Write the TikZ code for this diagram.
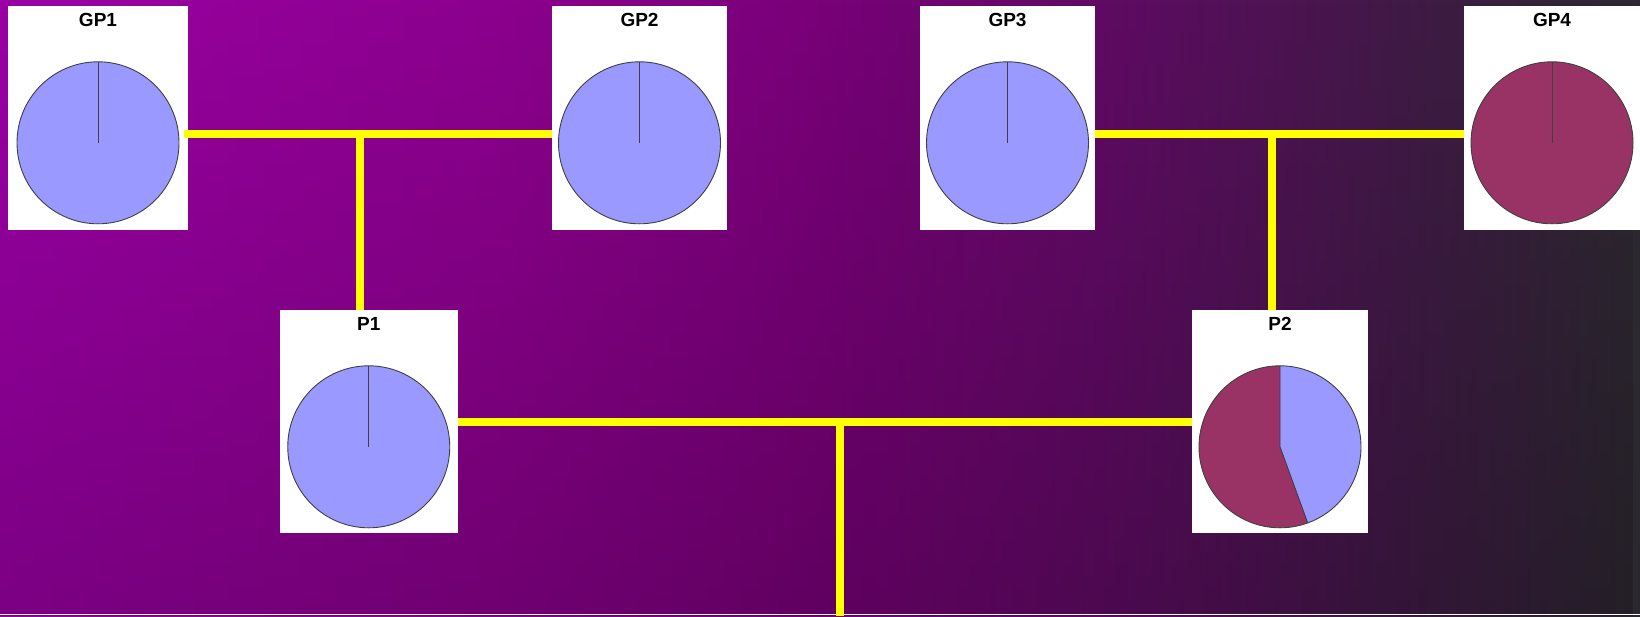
\documentclass[tikz,border=0pt]{standalone}
\usepackage{fontspec}
\setmainfont{Liberation Sans}
\usetikzlibrary{fadings}
\definecolor{pieblue}{HTML}{9999FF}
\definecolor{piered}{HTML}{993366}
\definecolor{linkyellow}{HTML}{FFFF00}
\definecolor{bgA}{HTML}{9A00A4}
\definecolor{bgB}{HTML}{8C008E}
\definecolor{bgC}{HTML}{7A007A}
\definecolor{bgD}{HTML}{600A64}
\definecolor{bgE}{HTML}{401A46}
\definecolor{bgF}{HTML}{2C2830}
\pgfdeclarehorizontalshading{bgshade}{100bp}{color(0bp)=(bgA); color(25bp)=(bgA); color(40bp)=(bgB); color(49.4bp)=(bgC); color(58.5bp)=(bgD); color(67.7bp)=(bgE); color(75bp)=(bgF); color(100bp)=(bgF)}
\tikzset{
  box/.style={fill=white, draw=none, inner sep=0pt},
  lab/.style={anchor=base, inner sep=0pt, font=\bfseries\fontsize{19}{20}\selectfont},
  link/.style={draw=linkyellow, line width=8pt},
  pieedge/.style={draw=black!75, line width=0.9pt},
}
\begin{document}
\begin{tikzpicture}[x=1pt,y=-1pt]
\useasboundingbox (0,0) rectangle (1640,616);
\shade[shading=bgshade] (0,0) rectangle (1640,616);
\fill[black, path fading=north, fill opacity=0.2] (0,0) rectangle (1640,616);
\draw[white, line width=1pt] (0,614.5) -- (1640,614.5);

% boxes
\node[box, minimum width=180pt, minimum height=224pt] (GP1) at (98,118) {};
\node[box, minimum width=175pt, minimum height=224pt] (GP2) at (639.5,118) {};
\node[box, minimum width=175pt, minimum height=224pt] (GP3) at (1007.5,118) {};
\node[box, minimum width=176pt, minimum height=224pt] (GP4) at (1552,118) {};
\node[box, minimum width=177.5pt, minimum height=223pt] (P1) at (368.75,421.5) {};
\node[box, minimum width=176pt, minimum height=223pt] (P2) at (1280,421.5) {};

% labels
\node[lab] (GP1t) at ([yshift=-20.7pt]GP1.north) {GP1};
\node[lab] (GP2t) at ([yshift=-20.7pt]GP2.north) {GP2};
\node[lab] (GP3t) at ([yshift=-20.7pt]GP3.north) {GP3};
\node[lab] (GP4t) at ([yshift=-20.7pt]GP4.north) {GP4};
\node[lab] (P1t) at ([yshift=-20.7pt]P1.north) {P1};
\node[lab] (P2t) at ([yshift=-20.7pt]P2.north) {P2};

% pies (full)
\foreach \b/\c in {GP1/pieblue, GP2/pieblue, GP3/pieblue, GP4/piered, P1/pieblue}{
  \begin{scope}[shift={([yshift=-137pt]\b.north)}, yscale=-1]
    \fill[\c] (0,0) circle (81);
    \draw[pieedge] (0,0) circle (81);
    \draw[pieedge] (0,0) -- (90:81);
  \end{scope}
}
% P2 pie
\begin{scope}[shift={([yshift=-137pt]P2.north)}, yscale=-1]
  \fill[pieblue] (0,0) -- (90:81) arc[start angle=90, end angle=-70, radius=81] -- cycle;
  \fill[piered] (0,0) -- (90:81) arc[start angle=90, end angle=290, radius=81] -- cycle;
  \draw[pieedge] (0,0) circle (81);
  \draw[pieedge] (90:81) -- (0,0) -- (-70:81);
\end{scope}

% connectors
\coordinate (jA) at (360,134);
\coordinate (jB) at (1272,134);
\coordinate (jC) at (840,422);
\coordinate (bot) at (840,616);
\draw[link] ([xshift=-4pt]GP1.east |- jA) -- (GP2.west |- jA);
\draw[link] (jA) -- (jA |- P1.north);
\draw[link] (GP3.east |- jB) -- (GP4.west |- jB);
\draw[link] (jB) -- (jB |- P2.north);
\draw[link] (P1.east |- jC) -- (P2.west |- jC);
\draw[link] (jC) -- (bot);
\end{tikzpicture}
\end{document}
